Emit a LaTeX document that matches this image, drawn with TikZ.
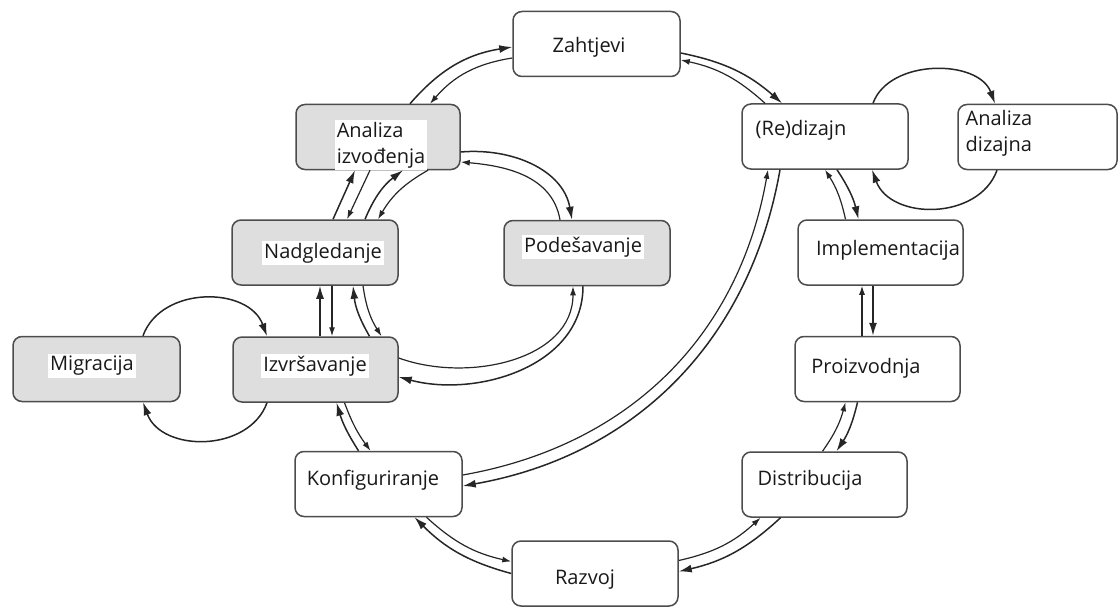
\documentclass[tikz,border=0pt]{standalone}
\usepackage{fontspec}
\setmainfont{Open Sans}
\usetikzlibrary{arrows.meta}

\begin{document}
\begin{tikzpicture}[x=1pt,y=-1pt,
    box/.style={draw=black!70,line width=1.5pt,rounded corners=9pt,fill=white,
        minimum height=65pt,inner sep=0pt},
    gbox/.style={box,fill=black!13},
    lbl/.style={font=\fontsize{20}{26}\selectfont,inner sep=1pt,align=left,text=black!90},
    glbl/.style={lbl,fill=white,inner sep=2pt},
    fwd/.style={draw=black!85,line width=1.5pt,-{Latex[length=13pt,width=8pt]}},
    bck/.style={draw=black!85,line width=1.2pt,-{Latex[length=9pt,width=6pt]}}]

    \useasboundingbox (0,0) rectangle (1118,607);

    % boxes
    \foreach \n/\s/\l/\w/\x/\y/\tx/\ty/\t in {
        zaht/box/lbl/167/596.5/44/589/47/Zahtjevi,
        red/box/lbl/166/825/136.5/801/130/(Re)dizajn,
        ad/box/lbl/159/1037.5/137/999/133/{Analiza\\dizajna},
        impl/box/lbl/165/880.5/252.5/888/250/Implementacija,
        proiz/box/lbl/165/877.5/369/866/368/Proizvodnja,
        distr/box/lbl/165/824.5/484.5/810/480/Distribucija,
        razvoj/box/lbl/166/595/573.5/585/580/Razvoj,
        konf/box/lbl/167/378.5/484/373/480/Konfiguriranje,
        izvr/gbox/glbl/165/315.5/369.5/315/366/Izvršavanje,
        migr/gbox/glbl/167/96.5/369/92/366/Migracija,
        nadg/gbox/glbl/166/315/252.5/323/253/Nadgledanje,
        pod/gbox/glbl/166/587/253/583/247/Podešavanje,
        ai/gbox/glbl/164/378/137/381/145/{Analiza\\izvođenja}}
    {
        \node[\s,minimum width=\w pt] (\n) at (\x,\y) {};
        \node[\l] (\n-t) at (\tx,\ty) {\t};
    }

    % outer ring
    \draw[fwd] ([xshift=32pt]ai.north) to[bend left=20] ([yshift=-3pt]zaht.west);
    \draw[bck] ([yshift=-14pt]zaht.west) to[bend right=20] ([xshift=52pt]ai.north);
    \draw[fwd] ([yshift=-9pt]zaht.east) to[bend left=15] ([xshift=-43pt]red.north);
    \draw[bck] ([xshift=-60pt]red.north) to[bend right=15] ([yshift=-16pt]zaht.east);
    \draw[fwd] ([xshift=12pt]red.south) to[bend left=10] ([xshift=-22pt]impl.north);
    \draw[bck] ([xshift=-35pt]impl.north) to[bend right=10] (red.south);
    \draw[fwd] ([xshift=-7.5pt]impl.south) -- ([xshift=-4.5pt]proiz.north);
    \draw[bck] ([xshift=-15.5pt]proiz.north) -- ([xshift=-18.5pt]impl.south);
    \draw[fwd] ([xshift=-20pt]proiz.south) to[bend left=10] ([xshift=12pt]distr.north);
    \draw[bck] ([xshift=-2pt]distr.north) to[bend right=10] ([xshift=-32pt]proiz.south);
    \draw[fwd] ([xshift=-44pt]distr.south) to[bend left=15] ([yshift=2pt]razvoj.east);
    \draw[bck] ([yshift=13pt]razvoj.east) to[bend right=15] ([xshift=-64pt]distr.south);
    \draw[fwd] (razvoj.west) to[bend left=15] ([xshift=36pt]konf.south);
    \draw[bck] ([xshift=48pt]konf.south) to[bend right=15] ([yshift=12pt]razvoj.west);
    \draw[fwd] ([xshift=-20pt]konf.north) to[bend left=8] ([xshift=21pt]izvr.south);
    \draw[bck] ([xshift=29pt]izvr.south) to[bend right=8] ([xshift=-8pt]konf.north);
    \draw[fwd] ([xshift=4.5pt]izvr.north) -- ([xshift=5pt]nadg.south);
    \draw[bck] ([xshift=17pt]nadg.south) -- ([xshift=16.5pt]izvr.north);
    \draw[fwd] ([xshift=18pt]nadg.north) -- ([xshift=-23pt]ai.south);
    \draw[bck] ([xshift=-8pt]ai.south) -- ([xshift=32pt]nadg.north);

    % inner ring
    \draw[fwd] ([xshift=54pt]izvr.north) to[bend left=12] ([xshift=38pt]nadg.south);
    \draw[bck] ([xshift=48pt]nadg.south) to[bend right=12] ([xshift=66pt]izvr.north);
    \draw[fwd] ([xshift=50pt]nadg.north) to[bend left=15] ([xshift=25pt]ai.south);
    \draw[bck] ([xshift=50pt]ai.south) to[bend right=15] ([xshift=63pt]nadg.north);
    \draw[fwd] ([yshift=-15pt]ai.east) to[out=5,in=100] ([xshift=-15pt]pod.north);
    \draw[bck] ([xshift=-27pt]pod.north) to[out=100,in=-5] ([yshift=-25pt]ai.east);
    \draw[fwd] ([xshift=-4pt]pod.south) to[out=270,in=-15] ([yshift=-7.5pt]izvr.east);
    \draw[bck] ([yshift=11.5pt]izvr.east) to[out=-20,in=270] ([xshift=-14pt]pod.south);

    % redesign back to configuration
    \draw[bck] ([yshift=9pt]konf.east) to[out=10,in=260] ([xshift=-57pt]red.south);
    \draw[fwd] ([xshift=-45pt]red.south) to[out=260,in=10] ([yshift=-2pt]konf.east);

    % side loops
    \draw[fwd] ([xshift=46.5pt]migr.north) to[out=70,in=110,looseness=1.1] ([xshift=-48.5pt]izvr.north);
    \draw[fwd] ([xshift=-48.5pt]izvr.south) to[out=250,in=290,looseness=1.1] ([xshift=46.5pt]migr.south);
    \draw[fwd] ([xshift=48pt]red.north) to[out=70,in=110] ([xshift=-42.5pt]ad.north);
    \draw[fwd] ([xshift=-40.5pt]ad.south) to[out=250,in=290,looseness=1.1] ([xshift=47pt]red.south);
\end{tikzpicture}
\end{document}
